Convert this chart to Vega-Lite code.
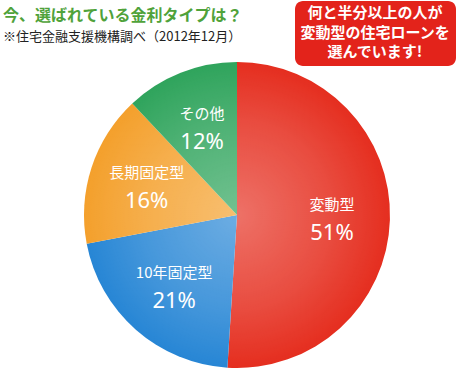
{
  "$schema": "https://vega.github.io/schema/vega-lite/v6.json",
  "width": 474,
  "height": 306,
  "autosize": {"type": "none"},
  "padding": {"left": 0, "top": 62, "right": 0, "bottom": 11},
  "background": "white",
  "title": {
    "text": "今、選ばれている金利タイプは？",
    "subtitle": "※住宅金融支援機構調べ（2012年12月）",
    "anchor": "start",
    "frame": "group",
    "font": "Noto Sans CJK JP",
    "fontSize": 16,
    "fontWeight": "bold",
    "color": "#4fa23a",
    "subtitleFont": "Noto Sans CJK JP",
    "subtitleFontSize": 13,
    "subtitleColor": "#222222",
    "subtitlePadding": 7,
    "offset": 17,
    "dx": 3,
    "dy": 60
  },
  "data": {
    "values": [
      {"type": "変動型", "value": 0.51, "order": 1},
      {"type": "10年固定型", "value": 0.21, "order": 2},
      {"type": "長期固定型", "value": 0.16, "order": 3},
      {"type": "その他", "value": 0.12, "order": 4}
    ]
  },
  "layer": [
    {
      "mark": {"type": "arc", "stroke": null},
      "encoding": {
        "theta": {"field": "value", "type": "quantitative", "stack": true},
        "order": {"field": "order", "type": "quantitative"},
        "color": {
          "field": "type",
          "type": "nominal",
          "scale": {
            "domain": ["変動型", "10年固定型", "長期固定型", "その他"],
            "range": ["#e52e1f", "#2786d5", "#f4a02c", "#2fa45c"]
          },
          "legend": {
            "orient": "none",
            "legendX": 295,
            "legendY": -61,
            "values": ["変動型"],
            "title": ["何と半分以上の人が", "変動型の住宅ローンを", "選んでいます!"],
            "titleFont": "Noto Sans CJK JP",
            "titleFontSize": 15,
            "titleFontWeight": "bold",
            "titleColor": "white",
            "titleAlign": "center",
            "titleAnchor": "middle",
            "titleLineHeight": 19.5,
            "titlePadding": 0,
            "titleLimit": 300,
            "fillColor": "#e3231b",
            "cornerRadius": 8,
            "padding": 5,
            "symbolSize": 0,
            "symbolStrokeWidth": 0,
            "symbolOpacity": 0,
            "labelExpr": "''",
            "labelFontSize": 1
          }
        }
      }
    },
    {
      "transform": [{"aggregate": [{"op": "sum", "field": "value", "as": "total"}]}],
      "mark": {
        "type": "arc",
        "stroke": null,
        "color": {
          "gradient": "radial",
          "stops": [
            {"offset": 0, "color": "rgba(255,255,255,0.32)"},
            {"offset": 0.6, "color": "rgba(255,255,255,0.15)"},
            {"offset": 1, "color": "rgba(255,255,255,0)"}
          ]
        }
      },
      "encoding": {
        "theta": {"field": "total", "type": "quantitative"}
      }
    },
    {
      "mark": {"type": "text", "radius": 95, "dy": -13, "fontSize": 15, "font": "Noto Sans CJK JP", "color": "white"},
      "encoding": {
        "theta": {"field": "value", "type": "quantitative", "stack": true},
        "order": {"field": "order", "type": "quantitative"},
        "text": {"field": "type", "type": "nominal"}
      }
    },
    {
      "mark": {"type": "text", "radius": 95, "dy": 15, "fontSize": 22, "font": "Noto Sans", "color": "white"},
      "encoding": {
        "theta": {"field": "value", "type": "quantitative", "stack": true},
        "order": {"field": "order", "type": "quantitative"},
        "text": {"field": "value", "type": "quantitative", "format": ".0%"}
      }
    }
  ]
}
